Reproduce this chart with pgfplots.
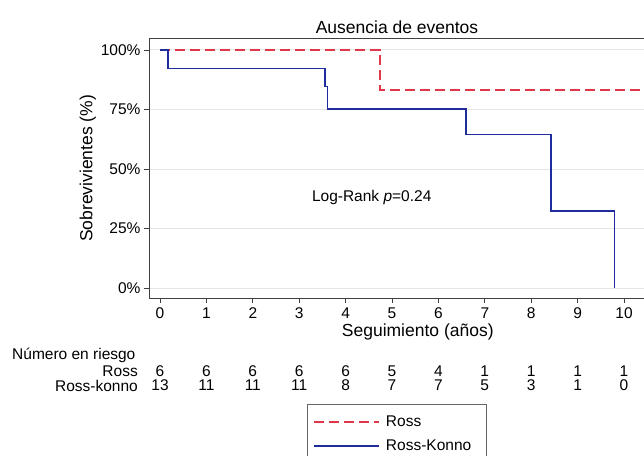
\documentclass[border=0pt]{standalone}
\usepackage{fontspec}
\setmainfont{Liberation Sans}
\usepackage{pgfplots}
\pgfplotsset{compat=1.18}
\definecolor{rossred}{RGB}{225,55,75}
\definecolor{konnoblue}{RGB}{30,45,155}
\begin{document}
\begin{tikzpicture}[x=1pt,y=1pt]
\useasboundingbox (0pt,0pt) rectangle (644pt,455pt);
\begin{axis}[
  at={(149pt,157pt)}, anchor=south west,
  scale only axis, width=495pt, height=259pt,
  xmin=-0.237, xmax=10.43, ymin=-4.2, ymax=104.62,
  axis x line=box, axis y line=left,
  axis line style={-, black!75, line width=1pt},
  xtick={0,...,10}, ytick={0,25,50,75,100},
  xtick pos=left, ytick pos=left,
  tick align=outside, major tick length=5pt,
  tick style={black!75, line width=0.9pt},
  yticklabel={\pgfmathprintnumber{\tick}\%},
  /pgf/number format/assume math mode=true,
  ticklabel style={font=\fontsize{15.5}{18}\selectfont},
  xticklabel style={yshift=-1pt},
  ymajorgrids, grid style={black!10, line width=1pt},
  clip mode=individual,
  title={Ausencia de eventos},
  title style={font=\fontsize{17.5}{20}\selectfont, at={(0.501,1)}, yshift=-4pt},
  xlabel={Seguimiento (años)},
  xlabel style={font=\fontsize{17.5}{20}\selectfont, at={(0.543,0)}, anchor=north, yshift=-22pt},
  ylabel={Sobrevivientes (\%)},
  ylabel style={font=\fontsize{17.5}{20}\selectfont, yshift=-2pt},
  legend style={at={(0.319,-0.41)}, anchor=north west, draw=black!60, line width=0.9pt,
    font=\fontsize{15.5}{18}\selectfont, inner xsep=6pt, inner ysep=9pt, row sep=8pt},
  legend cell align=left,
  legend image code/.code={\draw[#1, line width=1.6pt] (0pt,0pt) -- (65pt,0pt);},
]
\addplot[const plot, rossred, line width=1.6pt, dash pattern=on 10pt off 5pt]
  coordinates {(0,100) (4.74,83.3) (10.43,83.3)};
\addlegendentry{\hspace{4pt}\makebox[92pt][l]{Ross}}
\addplot[const plot, konnoblue, line width=1.6pt]
  coordinates {(0,100) (0.17,92.3) (3.56,84.6) (3.61,75.2) (6.59,64.5) (8.43,32.3) (9.79,0)};
\addlegendentry{\hspace{4pt}\makebox[92pt][l]{Ross-Konno}}
\node[anchor=west, font=\fontsize{15.5}{18}\selectfont] at (axis cs:3.2,38.2) {Log-Rank \textit{p}=0.24};
\end{axis}
\begin{scope}[font=\fontsize{15.5}{18}\selectfont, every node/.style={inner sep=0pt}]
\node[anchor=west] at (12pt,100pt) {Número en riesgo};
\node[anchor=east] at (138pt,84pt) {Ross};
\node[anchor=east] at (138pt,69.5pt) {Ross-konno};
\foreach \i/\a/\b in {0/6/13,1/6/11,2/6/11,3/6/11,4/6/8,5/5/7,6/4/7,7/1/5,8/1/3,9/1/1,10/1/0}{
  \node at (160pt+46.4pt*\i,84pt) {\a};
  \node at (160pt+46.4pt*\i,69.5pt) {\b};
}
\end{scope}
\end{tikzpicture}
\end{document}
